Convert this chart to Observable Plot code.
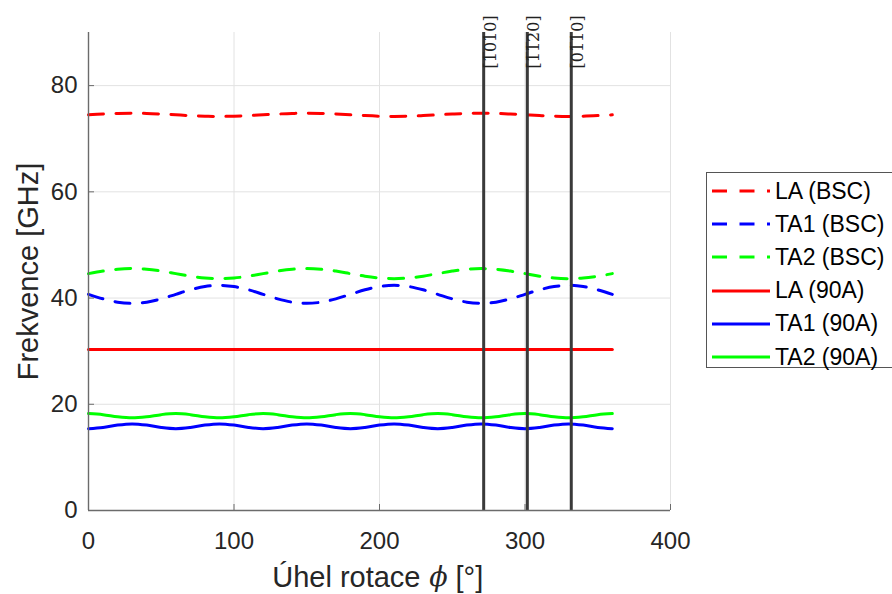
<!DOCTYPE html>
<html><head><meta charset="utf-8">
<script src="https://cdn.jsdelivr.net/npm/d3@7"></script>
<script src="https://cdn.jsdelivr.net/npm/@observablehq/plot@0.6"></script>
<style>
html,body{margin:0;padding:0;background:#fff;}
#wrap{position:relative;width:892px;height:594px;overflow:hidden;background:#fff;}
#legend{position:absolute;left:706px;top:172px;width:210px;height:196px;border:1px solid #555;background:#fff;box-sizing:border-box;font-family:"Liberation Sans",Arial,sans-serif;font-size:23px;color:#000;}
.row{position:absolute;left:0;height:30px;display:flex;align-items:center;white-space:nowrap;}
.row svg{margin-left:5px;margin-right:5px;}
</style></head><body><div id="wrap"></div>
<script>
// sample angles (deg)
const phi = [0,10,20,30,40,50,60,70,80,90,100,110,120,130,140,150,160,170,180,190,200,210,220,230,240,250,260,270,280,290,300,310,320,330,340,350,360];

const seriesNames = ["LA (BSC)", "TA1 (BSC)", "TA2 (BSC)", "LA (90A)", "TA1 (90A)", "TA2 (90A)"];
const seriesColors = ["#ff0000", "#0000ff", "#00ff00", "#ff0000", "#0000ff", "#00ff00"];
const seriesDashed = [true, true, true, false, false, false];

const laBSC = [74.5,74.65,74.76,74.8,74.76,74.65,74.5,74.35,74.24,74.2,74.24,74.35,
               74.5,74.65,74.76,74.8,74.76,74.65,74.5,74.35,74.24,74.2,74.24,74.35,
               74.5,74.65,74.76,74.8,74.76,74.65,74.5,74.35,74.24,74.2,74.24,74.35,74.5];
const ta1BSC = [40.7,39.85,39.23,39.0,39.23,39.85,40.7,41.55,42.17,42.4,42.17,41.55,
                40.7,39.85,39.23,39.0,39.23,39.85,40.7,41.55,42.17,42.4,42.17,41.55,
                40.7,39.85,39.23,39.0,39.23,39.85,40.7,41.55,42.17,42.4,42.17,41.55,40.7];
const ta2BSC = [44.6,45.08,45.42,45.55,45.42,45.08,44.6,44.12,43.78,43.65,43.78,44.12,
                44.6,45.08,45.42,45.55,45.42,45.08,44.6,44.12,43.78,43.65,43.78,44.12,
                44.6,45.08,45.42,45.55,45.42,45.08,44.6,44.12,43.78,43.65,43.78,44.12,44.6];
const la90A = [30.3,30.3,30.3,30.3,30.3,30.3,30.3,30.3,30.3,30.3,30.3,30.3,30.3,30.3,30.3,30.3,30.3,30.3,30.3,
               30.3,30.3,30.3,30.3,30.3,30.3,30.3,30.3,30.3,30.3,30.3,30.3,30.3,30.3,30.3,30.3,30.3,30.3];
const ta190A = [15.4,15.63,16.08,16.3,16.08,15.63, 15.4,15.63,16.08,16.3,16.08,15.63,
                15.4,15.63,16.08,16.3,16.08,15.63, 15.4,15.63,16.08,16.3,16.08,15.63,
                15.4,15.63,16.08,16.3,16.08,15.63, 15.4,15.63,16.08,16.3,16.08,15.63, 15.4];
const ta290A = [18.25,18.05,17.65,17.45,17.65,18.05, 18.25,18.05,17.65,17.45,17.65,18.05,
                18.25,18.05,17.65,17.45,17.65,18.05, 18.25,18.05,17.65,17.45,17.65,18.05,
                18.25,18.05,17.65,17.45,17.65,18.05, 18.25,18.05,17.65,17.45,17.65,18.05, 18.25];

const seriesValues = [laBSC, ta1BSC, ta2BSC, la90A, ta190A, ta290A];

// crystal directions
const directionAngles = [271.6, 301.6, 331.8];
const directionLabels = ["[1\u0305010]", "[1\u03051\u030520]", "[01\u030510]"];

const xTicks = [0, 100, 200, 300, 400];
const yTicks = [0, 20, 40, 60, 80];

const rows = seriesNames.flatMap((name, s) =>
  phi.map((p, i) => ({series: name, s, phi: p, v: seriesValues[s][i]})));

const sans = '"Liberation Sans", Arial, sans-serif';
const serif = '"DejaVu Serif", "Liberation Serif", serif';

const lineMarks = seriesNames.map((name, s) =>
  Plot.line(rows.filter(d => d.s === s), {
    x: "phi", y: "v",
    stroke: seriesColors[s],
    strokeWidth: 3,
    strokeDasharray: seriesDashed[s] ? "15,12.5" : null,
    curve: "catmull-rom"
  }));

const chart = Plot.plot({
  width: 892,
  height: 594,
  marginLeft: 88,
  marginRight: 222,
  marginTop: 32,
  marginBottom: 84,
  style: {fontFamily: sans, fontSize: "24px", color: "#262626", background: "white", overflow: "visible"},
  x: {domain: [0, 400], ticks: xTicks},
  y: {domain: [0, 90], ticks: yTicks},
  marks: [
    Plot.ruleX(xTicks, {stroke: "#e2e2e2", strokeWidth: 1}),
    Plot.ruleY(yTicks, {stroke: "#e2e2e2", strokeWidth: 1}),
    ...lineMarks,
    Plot.ruleX(directionAngles, {stroke: "#3a3a3a", strokeWidth: 3}),
    Plot.text(directionAngles, {
      x: d => d,
      frameAnchor: "top",
      text: (d, i) => directionLabels[i],
      rotate: -90,
      textAnchor: "start",
      lineAnchor: "middle",
      dx: 7, dy: 36,
      fontFamily: serif,
      fontSize: 16,
      fill: "#222"
    }),
    Plot.ruleX([0], {stroke: "#6b6b6b", strokeWidth: 1.4}),
    Plot.ruleY([0], {stroke: "#6b6b6b", strokeWidth: 1.4}),
    Plot.axisX(xTicks, {tickSize: -6, stroke: "#6b6b6b", tickFormat: () => "", label: null}),
    Plot.axisY(yTicks, {tickSize: -6, stroke: "#6b6b6b", tickFormat: () => "", label: null}),
    Plot.axisX(xTicks, {tickSize: 0, tickPadding: 21, fontSize: 24, fill: "#262626", label: null}),
    Plot.axisY(yTicks, {tickSize: 0, tickPadding: 11, fontSize: 24, fill: "#262626", label: null}),
    Plot.text(["Úhel rotace"], {frameAnchor: "bottom", textAnchor: "end", lineAnchor: "middle", dx: 41, dy: 67, fontSize: 29, fill: "#262626"}),
    Plot.text(["\u03D5"], {frameAnchor: "bottom", textAnchor: "middle", lineAnchor: "middle", dx: 59, dy: 67, fontSize: 27, fontStyle: "italic", fontFamily: serif, fill: "#262626"}),
    Plot.text(["[°]"], {frameAnchor: "bottom", textAnchor: "start", lineAnchor: "middle", dx: 76, dy: 67, fontSize: 29, fill: "#262626"}),
    Plot.text(["Frekvence [GHz]"], {frameAnchor: "left", rotate: -90, textAnchor: "middle", lineAnchor: "middle", dx: -60, fontSize: 29, fill: "#262626"})
  ]
});

const wrap = document.getElementById("wrap");
wrap.appendChild(chart);

// legend
const legend = document.createElement("div");
legend.id = "legend";
seriesNames.forEach((name, s) => {
  const row = document.createElement("div");
  row.className = "row";
  row.style.top = (18 + s * 33.2 - 15) + "px";
  const dash = seriesDashed[s] ? ' stroke-dasharray="15,12.5"' : "";
  row.innerHTML = `<svg width="58" height="10"><line x1="0" y1="5" x2="58" y2="5" stroke="${seriesColors[s]}" stroke-width="3"${dash}/></svg><span>${name}</span>`;
  legend.appendChild(row);
});
wrap.appendChild(legend);
</script>
</body></html>
